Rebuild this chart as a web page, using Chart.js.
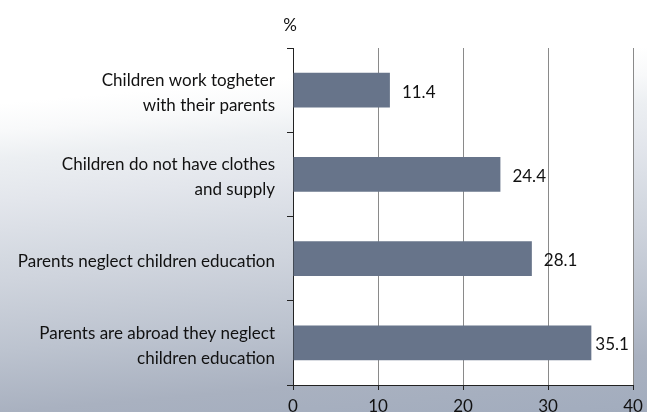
<!DOCTYPE html>
<html>
<head>
<meta charset="utf-8">
<script src="https://cdn.jsdelivr.net/npm/chart.js@4"></script>
<style>
  html, body { margin: 0; padding: 0; }
  body {
    width: 647px; height: 412px; overflow: hidden;
    background: linear-gradient(175deg,
      #ffffff 0%, #ffffff 22%, #f8f9fa 28%, #eceff2 34%, #e3e6ec 43%,
      #d4d9e1 55%, #cfd4dd 60%, #bcc3cf 75%, #a9b1c0 88%, #a3adbe 98%, #a2acbd 100%);
  }
  #wrap { position: relative; width: 647px; height: 412px; }
</style>
</head>
<body>
<div id="wrap"><canvas id="c" width="647" height="412"></canvas></div>
<script>
// Reasons children miss school, share of responses (%)
const categories = [
  ["Children work togheter", "with their parents"],
  ["Children do not have clothes", "and supply"],
  ["Parents neglect children education"],
  ["Parents are abroad they neglect", "children education"]
];
const values = [11.4, 24.4, 28.1, 35.1];
const valueLabels = ["11.4", "24.4", "28.1", "35.1"];
const xTicks = [0, 10, 20, 30, 40];
const unitLabel = "%";

const FONT = "Lato";
const FONT_SIZE = 17;

// White plotting area over the gradient page background
const plotBackground = {
  id: 'plotBackground',
  beforeDraw(chart) {
    const { ctx, chartArea: a } = chart;
    ctx.save();
    ctx.fillStyle = '#ffffff';
    ctx.fillRect(a.left, a.top, a.right - a.left, a.bottom - a.top);
    ctx.restore();
  }
};

// Value labels beside each bar, plus the unit above the value axis origin
const annotations = {
  id: 'annotations',
  afterDatasetsDraw(chart) {
    const { ctx, chartArea: a } = chart;
    const meta = chart.getDatasetMeta(0);
    ctx.save();
    ctx.font = `${FONT_SIZE}px ${FONT}`;
    ctx.fillStyle = '#111111';
    ctx.textBaseline = 'middle';
    ctx.textAlign = 'left';
    meta.data.forEach((bar, i) => {
      const txt = valueLabels[i];
      const w = ctx.measureText(txt).width;
      const x = Math.max(bar.x + 4, Math.min(bar.x + 12, a.right - 9 - w));
      ctx.fillText(txt, x, bar.y + 2);
    });
    ctx.textAlign = 'center';
    ctx.fillText(unitLabel, chart.scales.x.getPixelForValue(0) - 3, a.top - 22);
    ctx.restore();
  }
};

new Chart(document.getElementById('c'), {
  type: 'bar',
  data: {
    labels: categories,
    datasets: [{
      data: values,
      backgroundColor: '#67748a',
      borderWidth: 0,
      categoryPercentage: 1,
      barPercentage: 0.415
    }]
  },
  options: {
    indexAxis: 'y',
    responsive: false,
    animation: false,
    devicePixelRatio: 1,
    layout: { padding: { left: 0, right: 14, top: 48, bottom: 0 } },
    plugins: {
      legend: { display: false },
      tooltip: { enabled: false }
    },
    scales: {
      x: {
        type: 'linear',
        min: xTicks[0],
        max: xTicks[xTicks.length - 1],
        afterBuildTicks(scale) { scale.ticks = xTicks.map(v => ({ value: v })); },
        afterFit(scale) {
          scale.height = 27;
          scale.paddingLeft = 0;
          scale.paddingRight = 0;
        },
        grid: {
          color: '#8a8a8a',
          lineWidth: 1,
          drawTicks: true,
          tickLength: 5,
          tickColor: '#222222'
        },
        border: { display: true, color: '#222222', width: 1 },
        ticks: {
          font: { family: FONT, size: FONT_SIZE },
          color: '#111111',
          padding: 6,
          maxRotation: 0
        }
      },
      y: {
        afterFit(scale) {
          scale.width = 293;
          scale.paddingTop = 0;
          scale.paddingBottom = 0;
        },
        grid: {
          offset: true,
          drawOnChartArea: false,
          drawTicks: true,
          tickLength: 6,
          color: '#222222',
          tickColor: '#222222'
        },
        border: { display: true, color: '#222222', width: 1 },
        ticks: {
          font: { family: FONT, size: FONT_SIZE, lineHeight: 1.47 },
          color: '#111111',
          padding: 12,
          labelOffset: 3,
          crossAlign: 'near'
        }
      }
    }
  },
  plugins: [plotBackground, annotations]
});
</script>
</body>
</html>
